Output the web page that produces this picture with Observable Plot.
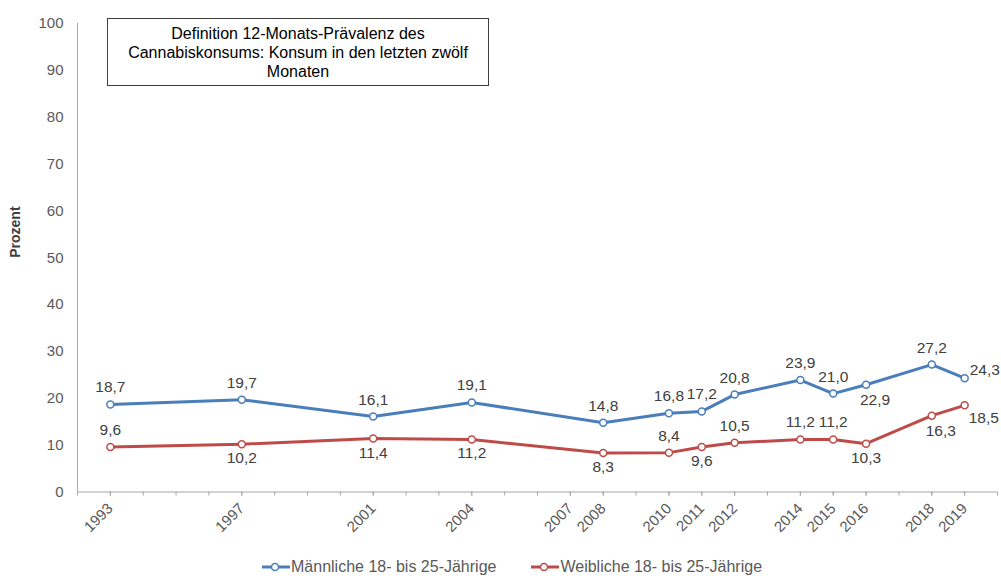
<!DOCTYPE html>
<html><head><meta charset="utf-8">
<script src="https://cdn.jsdelivr.net/npm/d3@7"></script>
<script src="https://cdn.jsdelivr.net/npm/@observablehq/plot@0.6"></script>
<style>
body{margin:0;background:#fff;font-family:"Liberation Sans",Arial,sans-serif;}
#wrap{position:relative;width:1001px;height:576px;overflow:hidden;}
#box{position:absolute;left:107px;top:18px;width:380px;height:66px;border:1px solid #404040;background:#fff;
  font-size:16px;line-height:19px;color:#000;text-align:center;display:flex;align-items:center;justify-content:center;box-sizing:content-box;}
#legend{position:absolute;top:557px;left:262px;display:flex;gap:35px;font-size:16px;color:#595959;line-height:20px;}
#legend .item{display:flex;align-items:center;}
#legend svg{margin-right:1px;}
</style></head>
<body><div id="wrap"><div id="chart"></div><div id="box"></div><div id="legend"></div></div>
<script>
const years = [1993,1997,2001,2004,2008,2010,2011,2012,2014,2015,2016,2018,2019];
const male = [18.7,19.7,16.1,19.1,14.8,16.8,17.2,20.8,23.9,21.0,22.9,27.2,24.3];
const female = [9.6,10.2,11.4,11.2,8.3,8.4,9.6,10.5,11.2,11.2,10.3,16.3,18.5];
const tickYears = [1993,1997,2001,2004,2007,2008,2010,2011,2012,2014,2015,2016,2018,2019];
const yTicks = [0,10,20,30,40,50,60,70,80,90,100];
const seriesNames = ["Männliche 18- bis 25-Jährige","Weibliche 18- bis 25-Jährige"];
const seriesColors = ["#4a7ebb","#be4b48"];
const boxText = ["Definition 12-Monats-Prävalenz des","Cannabiskonsums: Konsum in den letzten zwölf","Monaten"];
const yLabel = "Prozent";
// label placement per point
const malePlace = ["t","t","t","t","t","t","t","t","t","t","br","t","rt"];
const femalePlace = ["t","b","b","b","b","t","b","t","t","t","b","br","rb"];

const fmt = v => v.toFixed(1).replace(".", ",");
const data = [];
years.forEach((yr,i)=>{
  data.push({year:yr, value:male[i], series:seriesNames[0], pos:malePlace[i]});
  data.push({year:yr, value:female[i], series:seriesNames[1], pos:femalePlace[i]});
});
const places = {
  t:{dx:0,dy:-17,anchor:"middle"},
  b:{dx:0,dy:14,anchor:"middle"},
  br:{dx:9,dy:15,anchor:"middle"},
  rt:{dx:5,dy:-8,anchor:"start"},
  rb:{dx:4,dy:13,anchor:"start"}
};
const labelMarks = Object.entries(places).map(([k,p]) =>
  Plot.text(data.filter(d=>d.pos===k), {x:"year", y:"value", text:d=>fmt(d.value), dx:p.dx, dy:p.dy,
    textAnchor:p.anchor, fill:"#404040", fontSize:15.5}));

const chart = Plot.plot({
  width:1001, height:540,
  marginLeft:77, marginRight:4, marginTop:23, marginBottom:48.5,
  style:{fontFamily:'"Liberation Sans", Arial, sans-serif', background:"#fff"},
  x:{type:"linear", domain:[1992,2020]},
  y:{domain:[0,100]},
  color:{domain:seriesNames, range:seriesColors},
  marks:[
    Plot.ruleX([1992], {y1:0, y2:100, stroke:"#a6a6a6"}),
    Plot.ruleY([0], {stroke:"#a6a6a6"}),
    Plot.axisY(yTicks, {tickSize:0, tickPadding:14, fontSize:15, fill:"#595959", label:null}),
    Plot.axisX(d3.range(1992,2021), {tickSize:4, stroke:"#a6a6a6", tickFormat:()=>"", label:null}),
    Plot.axisX(tickYears, {tickSize:4, stroke:"#a6a6a6", tickRotate:-45, tickPadding:10, fontSize:15, fill:"#595959", tickFormat:d=>String(d), label:null}),
    Plot.text([yLabel], {frameAnchor:"left", rotate:-90, dx:-62, fontWeight:"bold", fontSize:14, fill:"#404040"}),
    Plot.line(data, {x:"year", y:"value", stroke:"series", strokeWidth:3}),
    Plot.dot(data, {x:"year", y:"value", stroke:"series", fill:"#fff", r:3.5, strokeWidth:1.5}),
    ...labelMarks
  ]
});
document.getElementById("chart").appendChild(chart);
document.getElementById("box").innerHTML = boxText.join("<br>");
const leg = document.getElementById("legend");
seriesNames.forEach((n,i)=>{
  const it = document.createElement("div"); it.className="item";
  it.innerHTML = `<svg width="28" height="12"><line x1="0" x2="28" y1="6" y2="6" stroke="${seriesColors[i]}" stroke-width="3"/><circle cx="13" cy="6" r="3.5" fill="#fff" stroke="${seriesColors[i]}" stroke-width="1.5"/></svg><span>${n}</span>`;
  leg.appendChild(it);
});
</script></body></html>
